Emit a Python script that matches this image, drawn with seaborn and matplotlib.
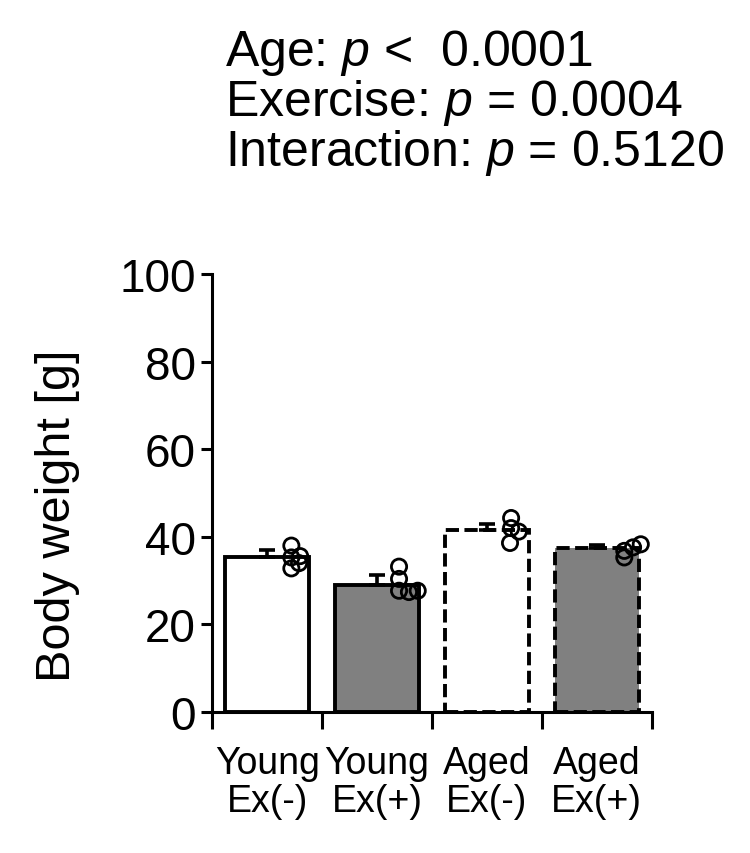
import numpy as np
import seaborn as sns
import matplotlib.pyplot as plt

# group labels and summary values
groups = ["Young\nEx(-)", "Young\nEx(+)", "Aged\nEx(-)", "Aged\nEx(+)"]
means = [35.4, 28.9, 41.5, 37.5]
sem = [1.6, 2.4, 1.5, 0.7]
fills = ["white", "#808080", "white", "#808080"]
dashed = [False, False, True, True]

# individual animals
young_ex_minus = [38.0, 35.3, 35.6, 32.8, 34.0]
young_ex_plus = [33.2, 30.4, 27.7, 27.4, 27.7]
aged_ex_minus = [44.3, 42.0, 41.2, 38.6]
aged_ex_plus = [36.8, 35.3, 37.6, 38.3]
points = [young_ex_minus, young_ex_plus, aged_ex_minus, aged_ex_plus]
# small horizontal spread of the dots beside each bar
spread = [[0.22, 0.22, 0.30, 0.22, 0.29],
          [0.20, 0.20, 0.20, 0.29, 0.37],
          [0.22, 0.22, 0.29, 0.21],
          [0.25, 0.25, 0.33, 0.40]]

stats = "Age: $p$ <  0.0001\nExercise: $p$ = 0.0004\nInteraction: $p$ = 0.5120"

sns.set_style("ticks")
plt.rcParams['font.family'] = ['Liberation Sans', 'DejaVu Sans']
plt.rcParams['mathtext.fontset'] = 'custom'
plt.rcParams['mathtext.it'] = 'Liberation Sans:italic'
plt.rcParams['mathtext.rm'] = 'Liberation Sans'
for k in ['text.color', 'axes.labelcolor', 'xtick.color', 'ytick.color', 'axes.edgecolor']:
    plt.rcParams[k] = 'black'

fig = plt.figure(figsize=(7.5, 8.54), dpi=100)
ax = fig.add_axes([0.283, 0.165, 0.586, 0.513])

sns.barplot(x=groups, y=means, hue=groups, palette=fills, legend=False,
            width=0.77, edgecolor="black", linewidth=2.8, errorbar=None, ax=ax)
for patch, d in zip(ax.patches, dashed):
    patch.set_zorder(2)
    if d:
        patch.set_linestyle((0, (3.4, 1.4)))

x = np.arange(len(groups))
ax.errorbar(x, means, yerr=[np.zeros(len(sem)), sem], fmt="none", ecolor="black",
            elinewidth=2.6, capsize=6, capthick=2.6, zorder=3)

for i, vals in enumerate(points):
    ax.scatter(i + np.array(spread[i]), vals, s=120, facecolor="none",
               edgecolor="black", linewidth=2, zorder=4)

ax.set_ylim(0, 100)
ax.set_xlim(-0.5, 3.5)
ax.set_yticks([0, 20, 40, 60, 80, 100])
ax.tick_params(axis="y", labelsize=33, length=8, width=2.2, pad=4)
ax.set_ylabel("Body weight [g]", fontsize=35)
ax.yaxis.set_label_coords(-0.30, 0.45)

# separators between groups as ticks, labels centred under bars
ax.set_xticks(np.arange(-0.5, 4, 1))
ax.set_xticklabels([])
ax.tick_params(axis="x", which="major", length=12, width=2.2)
ax.set_xticks(x, minor=True)
ax.set_xticklabels(groups, minor=True, fontsize=27, linespacing=1.05)
ax.tick_params(axis="x", which="minor", length=0, pad=24)
ax.set_xlabel("")

sns.despine(ax=ax)
for s in ["left", "bottom"]:
    ax.spines[s].set_linewidth(2.2)

fig.text(0.30, 0.967, stats, fontsize=36, va="top", ha="left", linespacing=1.0)

fig.savefig("out.png", dpi=100)
